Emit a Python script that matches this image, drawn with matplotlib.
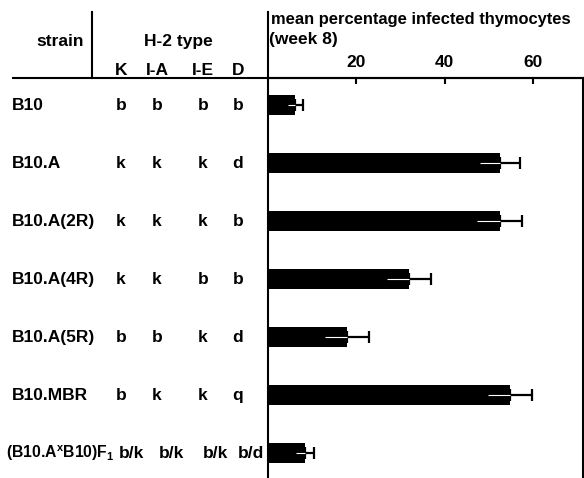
import matplotlib
matplotlib.use("Agg")
import matplotlib.pyplot as plt
import matplotlib.transforms as mtransforms

# data
strains = ["B10", "B10.A", "B10.A(2R)", "B10.A(4R)", "B10.A(5R)", "B10.MBR",
           r"(B10.A$\mathregular{^x}$B10)F$\mathregular{_1}$"]
h2_K = ["b", "k", "k", "k", "b", "b", "b/k"]
h2_IA = ["b", "k", "k", "k", "b", "k", "b/k"]
h2_IE = ["b", "k", "k", "b", "k", "k", "b/k"]
h2_D = ["b", "d", "b", "b", "d", "q", "b/d"]
infected = [6.2, 52.5, 52.5, 31.9, 17.9, 54.8, 8.4]
infected_err = [1.7, 4.5, 5.1, 5.0, 5.0, 4.9, 2.0]
tick_values = [20, 40, 60]

plt.rcParams["font.family"] = ["Liberation Sans", "DejaVu Sans"]
plt.rcParams["font.weight"] = "bold"
plt.rcParams["mathtext.default"] = "regular"
FS = 12.5

W, H = 584, 478
fig = plt.figure(figsize=(W / 100, H / 100), dpi=100)

# overlay in pixel coordinates for the table part
ov = fig.add_axes([0, 0, 1, 1])
ov.set_xlim(0, W)
ov.set_ylim(H, 0)
ov.axis("off")

# bar axes
x0, x1, ytop = 268, 583, 78
xmax = 71.3
ax = fig.add_axes([x0 / W, 0, (x1 - x0) / W, (H - ytop) / H])
rows = list(range(len(strains)))
ax.barh(rows, infected, height=0.34, color="black")
ax.errorbar(infected, rows, xerr=[[0] * len(rows), infected_err], fmt="none",
            ecolor="black", elinewidth=1.6, capsize=4, capthick=1.6)
lower = [v - e for v, e in zip(infected, infected_err)]
ax.hlines(rows, lower, infected, colors="white", linewidth=0.8)
ax.set_xlim(0, xmax)
ax.set_ylim(6.43, -0.47)
ax.xaxis.tick_top()
ax.set_xticks(tick_values)
ax.set_xticklabels([])
ax.tick_params(axis="x", direction="in", length=4, width=1.5, top=True, bottom=False)
ax.set_yticks([])
for s in ["top", "left", "right"]:
    ax.spines[s].set_linewidth(1.5)
ax.spines["bottom"].set_visible(False)
ax.patch.set_alpha(0)

# tick labels, x from the bar axes, y in pixels
tick_trans = mtransforms.blended_transform_factory(ax.transData, ov.transData)
for t in tick_values:
    ov.text(t, 62, str(t), ha="center", va="center", fontsize=FS,
            transform=tick_trans)

# lines of the table
ov.plot([12, x1], [ytop, ytop], color="black", lw=1.5, solid_capstyle="butt")
ov.plot([92, 92], [12, ytop], color="black", lw=1.5)
ov.plot([x0, x0], [12, ytop], color="black", lw=1.5)

# header
ov.text(84, 41, "strain", ha="right", va="center", fontsize=FS)
ov.text(178, 41, "H-2 type", ha="center", va="center", fontsize=FS)
col_x = [121, 157, 203, 238]
for cx, lab in zip(col_x, ["K", "I-A", "I-E", "D"]):
    ov.text(cx, 70, lab, ha="center", va="center", fontsize=FS)
ov.text(271, 19, "mean percentage infected thymocytes", ha="left", va="center",
        fontsize=11.9)
ov.text(269, 39, "(week 8)", ha="left", va="center", fontsize=FS)

# table rows aligned to bar rows
trans = mtransforms.blended_transform_factory(ov.transData, ax.transData)
f1_x = [131, 171, 215, 251]
for i, name in enumerate(strains):
    last = i == len(strains) - 1
    ov.text(6 if last else 12, i, name, ha="left", va="center",
            fontsize=11.3 if last else FS, transform=trans)
    xs = f1_x if last else col_x
    for cx, col in zip(xs, [h2_K, h2_IA, h2_IE, h2_D]):
        ov.text(cx, i, col[i], ha="center", va="center", fontsize=FS,
                transform=trans)

fig.savefig("out.png", dpi=100)
